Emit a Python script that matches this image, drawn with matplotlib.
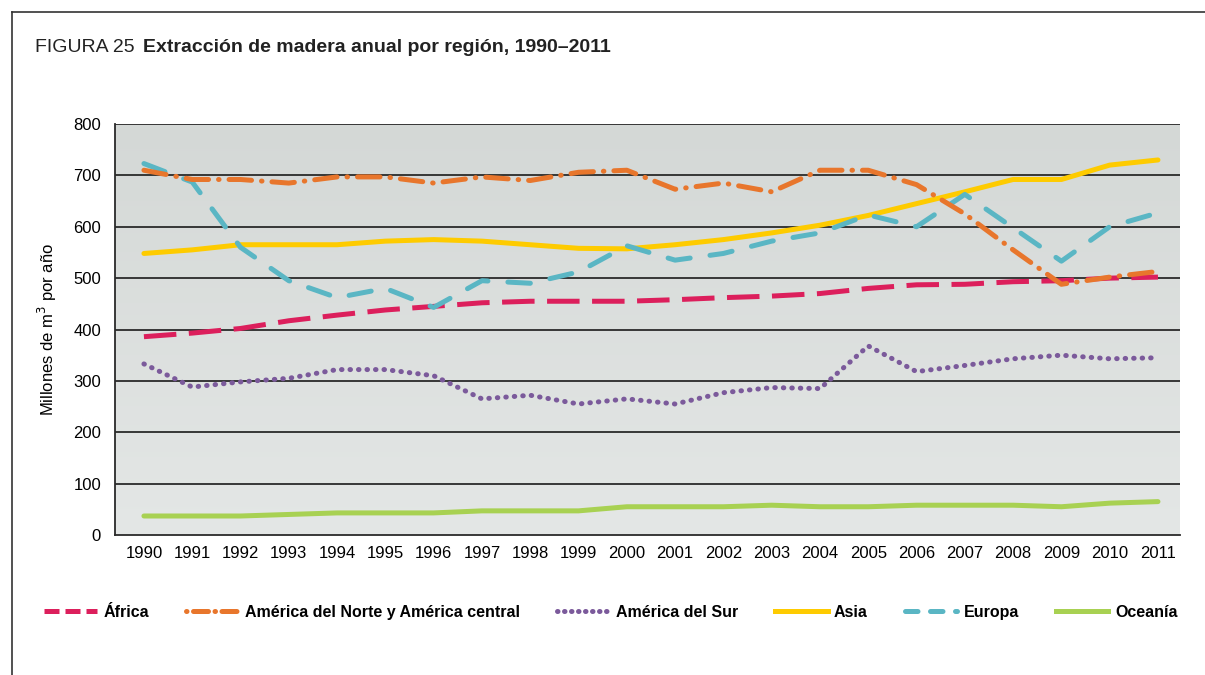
import numpy as np
import matplotlib
matplotlib.use("Agg")
import matplotlib.pyplot as plt
from matplotlib.lines import Line2D

plt.rcParams['font.family'] = ['Liberation Sans', 'DejaVu Sans']

years = list(range(1990, 2012))
africa = [386, 393, 402, 417, 428, 438, 445, 452, 455, 455, 455, 458, 462, 465, 470, 480, 487, 488, 493, 495, 500, 502]
america_nc = [710, 692, 692, 685, 697, 697, 685, 697, 690, 706, 710, 673, 685, 668, 710, 710, 682, 625, 555, 488, 502, 513]
america_sur = [333, 288, 298, 305, 322, 322, 310, 265, 272, 255, 265, 255, 277, 287, 285, 368, 318, 330, 343, 350, 343, 345]
asia = [548, 555, 565, 565, 565, 572, 575, 572, 565, 558, 557, 565, 575, 588, 603, 622, 645, 668, 692, 692, 720, 730]
europa = [723, 687, 560, 495, 462, 480, 443, 495, 490, 512, 563, 535, 548, 572, 588, 623, 600, 663, 598, 533, 600, 627]
oceania = [37, 37, 37, 40, 43, 43, 43, 47, 47, 47, 55, 55, 55, 58, 55, 55, 58, 58, 58, 55, 62, 65]

fig = plt.figure(figsize=(12.05, 6.75), dpi=100)
ax = fig.add_axes([0.0954, 0.2074, 0.8836, 0.6089])

# fondo degradado
grad = np.linspace(0, 1, 256).reshape(-1, 1)
ax.imshow(grad, extent=[1989.4, 2011.45, 0, 800], aspect='auto', origin='upper',
          cmap=matplotlib.colors.LinearSegmentedColormap.from_list('g', ['#d4d8d6', '#e4e7e6']), zorder=0)

for v in range(100, 900, 100):
    ax.axhline(v, color='#2a2a2a', lw=1.3, zorder=1)

lw = 3.6
ax.plot(years, oceania, color='#a8d152', lw=lw, solid_capstyle='round', zorder=3)
ax.plot(years, america_sur, color='#7b5a9b', lw=lw, linestyle=(0, (0.1, 1.6)), dash_capstyle='round', zorder=3)
ax.plot(years, africa, color='#dc1f5c', lw=lw, linestyle=(0, (6.5, 2.5)), zorder=3)
ax.plot(years, asia, color='#fecb00', lw=lw, solid_capstyle='round', zorder=3)
ax.plot(years, europa, color='#5ab6c4', lw=lw, linestyle=(0, (4.5, 4)), dash_capstyle='round', zorder=3)
ax.plot(years, america_nc, color='#e8762c', lw=lw, linestyle=(0, (4.5, 2, 0.1, 2)), dash_capstyle='round', zorder=3)

ax.set_xlim(1989.4, 2011.45)
ax.set_ylim(0, 800)
ax.set_xticks(years)
ax.set_xticklabels([str(y) for y in years], fontsize=12)
ax.set_yticks(range(0, 900, 100))
ax.tick_params(axis='y', labelsize=12, length=0, pad=10)
ax.tick_params(axis='x', length=0, pad=8)
for s in ['top', 'right']:
    ax.spines[s].set_visible(False)
ax.spines['left'].set_color('#2a2a2a')
ax.spines['left'].set_linewidth(1.3)
ax.spines['bottom'].set_color('#2a2a2a')
ax.spines['bottom'].set_linewidth(1.3)
ax.set_ylabel('Millones de m$^3$ por año', fontsize=12, labelpad=10)

# título
t1 = fig.text(0.029, 0.93, 'FIGURA 25', fontsize=14, ha='left', va='center', color='#222222')
fig.canvas.draw()
bb = t1.get_window_extent()
fig.text((bb.x1 + 8) / fig.bbox.width, 0.93, 'Extracción de madera anual por región, 1990–2011', fontsize=14,
         fontweight='bold', ha='left', va='center', color='#222222')

# marco
fig.add_artist(Line2D([0.01, 1.0], [0.982, 0.982], color='#333333', lw=1.2))
fig.add_artist(Line2D([0.01, 0.01], [0.0, 0.982], color='#333333', lw=1.2))

handles = [
    Line2D([], [], color='#dc1f5c', lw=lw, linestyle=(0, (3, 1.2))),
    Line2D([], [], color='#e8762c', lw=lw, linestyle=(0, (0.1, 1.3, 3, 1.3)), dash_capstyle='round'),
    Line2D([], [], color='#7b5a9b', lw=lw, linestyle=(0, (0.1, 1.3)), dash_capstyle='round'),
    Line2D([], [], color='#fecb00', lw=lw),
    Line2D([], [], color='#5ab6c4', lw=lw, linestyle=(0, (2.5, 2.5)), dash_capstyle='round'),
    Line2D([], [], color='#a8d152', lw=lw),
]
labels = ['África', 'América del Norte y América central', 'América del Sur', 'Asia', 'Europa', 'Oceanía']
fig.legend(handles, labels, loc='center', bbox_to_anchor=(0.507, 0.093), ncol=6, frameon=False,
           handlelength=3.3, handletextpad=0.4, columnspacing=2.3,
           prop={'weight': 'bold', 'size': 11.5})

fig.savefig('out.png', dpi=100)
